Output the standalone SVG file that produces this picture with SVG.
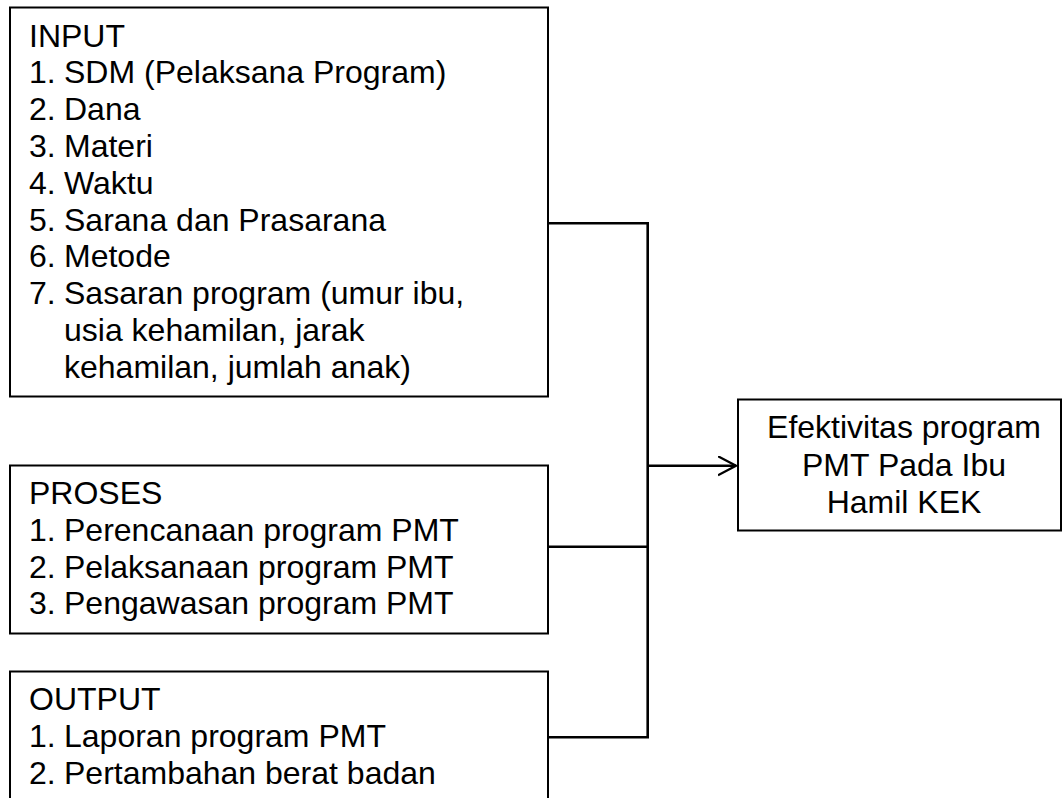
<svg xmlns="http://www.w3.org/2000/svg" width="1062" height="798" viewBox="0 0 1062 798">
<style>
.box{fill:#fff;stroke:#000;stroke-width:2}
.t{font-family:"Liberation Sans",Arial,sans-serif;font-size:32px;fill:#000}
.c{fill:none;stroke:#000;stroke-width:2.6}
.m{text-anchor:middle}
</style>
<defs>
<marker id="arr" markerWidth="20" markerHeight="22" refX="18" refY="10" orient="auto" markerUnits="userSpaceOnUse">
<polyline points="0,0.5 18,10 0,19.5" fill="none" stroke="#000" stroke-width="2.2"/>
</marker>
</defs>
<g id="connectors">
<polyline class="c" points="548,223.3 647.7,223.3 647.7,737.3 548,737.3"/>
<line class="c" x1="548" y1="546.7" x2="647.7" y2="546.7"/>
<line class="c" x1="647.7" y1="465.7" x2="736" y2="465.7" marker-end="url(#arr)"/>
</g>
<g id="input">
<rect class="box" x="10" y="7.5" width="538" height="389"/>
<text class="t" x="29" y="46.5">INPUT</text>
<text class="t" x="29" y="83.3">1.</text><text class="t" x="64" y="83.3">SDM (Pelaksana Program)</text>
<text class="t" x="29" y="120.1">2.</text><text class="t" x="64" y="120.1">Dana</text>
<text class="t" x="29" y="156.9">3.</text><text class="t" x="64" y="156.9">Materi</text>
<text class="t" x="29" y="193.7">4.</text><text class="t" x="64" y="193.7">Waktu</text>
<text class="t" x="29" y="230.5">5.</text><text class="t" x="64" y="230.5">Sarana dan Prasarana</text>
<text class="t" x="29" y="267.3">6.</text><text class="t" x="64" y="267.3">Metode</text>
<text class="t" x="29" y="304.1">7.</text><text class="t" x="64" y="304.1">Sasaran program (umur ibu,</text>
<text class="t" x="64" y="340.9">usia kehamilan, jarak</text>
<text class="t" x="64" y="377.7">kehamilan, jumlah anak)</text>
</g>
<g id="proses">
<rect class="box" x="10" y="465.5" width="538" height="168"/>
<text class="t" x="29" y="504">PROSES</text>
<text class="t" x="29" y="540.8">1.</text><text class="t" x="64" y="540.8">Perencanaan program PMT</text>
<text class="t" x="29" y="577.6">2.</text><text class="t" x="64" y="577.6">Pelaksanaan program PMT</text>
<text class="t" x="29" y="614.4">3.</text><text class="t" x="64" y="614.4">Pengawasan program PMT</text>
</g>
<g id="output">
<rect class="box" x="10" y="671.5" width="538" height="140"/>
<text class="t" x="29" y="710">OUTPUT</text>
<text class="t" x="29" y="746.8">1.</text><text class="t" x="64" y="746.8">Laporan program PMT</text>
<text class="t" x="29" y="783.6">2.</text><text class="t" x="64" y="783.6">Pertambahan berat badan</text>
</g>
<g id="hasil">
<rect class="box" x="738" y="399.5" width="323" height="131"/>
<text class="t m" x="904" y="438.3">Efektivitas program</text>
<text class="t m" x="904" y="475.8">PMT Pada Ibu</text>
<text class="t m" x="904" y="513.3">Hamil KEK</text>
</g>
</svg>
